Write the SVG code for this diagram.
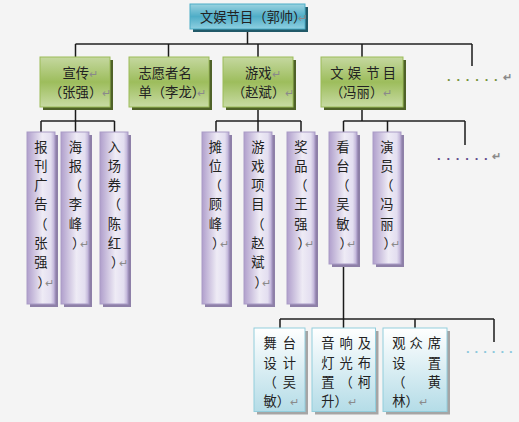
<svg xmlns="http://www.w3.org/2000/svg" width="519" height="422" viewBox="0 0 519 422">
<defs>
<linearGradient id="gTeal" x1="0" y1="0" x2="0" y2="1"><stop offset="0" stop-color="#9ad2e0"/><stop offset="0.5" stop-color="#4fadc7"/><stop offset="1" stop-color="#8fd0e1"/></linearGradient>
<linearGradient id="gGreen" x1="0" y1="0" x2="0" y2="1"><stop offset="0" stop-color="#c5d8a0"/><stop offset="0.5" stop-color="#9dbd5c"/><stop offset="1" stop-color="#c8dba4"/></linearGradient>
<linearGradient id="gPurple" x1="0" y1="0" x2="1" y2="0"><stop offset="0" stop-color="#b09fcc"/><stop offset="0.55" stop-color="#eeebf5"/><stop offset="0.85" stop-color="#e3def0"/><stop offset="1" stop-color="#b8aad2"/></linearGradient>
<linearGradient id="gBlue" x1="0" y1="0" x2="0" y2="1"><stop offset="0" stop-color="#ffffff"/><stop offset="1" stop-color="#b4dce7"/></linearGradient>
<style>
text{font-family:"Noto Sans CJK SC","Noto Sans CJK JP",sans-serif;font-size:13.3px;fill:#222}
.r{font-size:11px;fill:#8a8a8a;letter-spacing:0}
.v{text-anchor:middle}
.p{letter-spacing:-5.8px}
.teal{fill:url(#gTeal);stroke:#4bacc6;stroke-width:1}
.tealS{fill:#215968}
.green{fill:url(#gGreen);stroke:#9bbb59;stroke-width:1}
.greenS{fill:#4f6228}
.purple{fill:url(#gPurple);stroke:#a99bc6;stroke-width:1}
.purpleS{fill:#8e80a8}
.blue{fill:url(#gBlue);stroke:#92cddc;stroke-width:1}
.blueS{fill:#a5a5a5}
.ln{stroke:#1a1a1a;stroke-width:1.5;fill:none}
.bar{stroke:#555;stroke-width:2.2;fill:none}
.dg{font-family:"Liberation Sans",sans-serif;font-weight:bold;font-size:13px;fill:#77933c;letter-spacing:5.8px}
.dp{font-family:"Liberation Sans",sans-serif;font-weight:bold;font-size:13px;fill:#604a8a;letter-spacing:5.8px}
.db{font-family:"Liberation Sans",sans-serif;font-weight:bold;font-size:13px;fill:#8cc8dc;letter-spacing:5px}
</style>
</defs>
<rect width="519" height="422" fill="#f4f4f4"/>

<g id="connectors">
<path class="bar" d="M75.5 44H472 M41 121H114.5 M216 121H301 M343.5 121H465 M280 319H494"/>
<path class="ln" d="M247.5 30V44 M75.5 44V57 M168.5 44V57 M258 44V57 M362 44V57 M472 44V66
M75.5 107V121 M41 121V132 M75.5 121V132 M114.5 121V132
M258 107V121 M216 121V132 M258 121V132 M301 121V132
M362 107V121 M343.5 121V132 M387.5 121V132 M465 121V145
M343.5 264V319 M280 319V328 M343.5 319V328 M415 319V328 M494 319V342"/>
</g>

<g id="root">
<rect class="tealS" x="193" y="7" width="115" height="25"/>
<rect class="teal" x="190" y="4" width="115" height="25"/>
<text x="200" y="22">文娱节目（郭帅<tspan style="letter-spacing:-8.4px">）</tspan><tspan class="r">↵</tspan></text>
</g>

<g id="n-xuanchuan">
<rect class="greenS" x="43" y="60" width="70" height="50"/>
<rect class="green" x="40" y="57" width="70" height="50"/>
<text x="62.5" y="78">宣传<tspan class="r">↵</tspan></text>
<text x="49" y="96.5">（张强）<tspan class="r">↵</tspan></text>
</g>

<g id="n-zhiyuanzhe">
<rect class="greenS" x="132" y="60" width="80" height="50"/>
<rect class="green" x="129" y="57" width="80" height="50"/>
<text x="138.5" y="78">志愿者名</text>
<text x="138.5" y="96.5">单（李龙<tspan style="letter-spacing:-8px">）</tspan><tspan class="r">↵</tspan></text>
</g>

<g id="n-youxi">
<rect class="greenS" x="226" y="60" width="70" height="50"/>
<rect class="green" x="223" y="57" width="70" height="50"/>
<text x="245" y="78">游戏<tspan class="r">↵</tspan></text>
<text x="232" y="96.5">（赵斌）<tspan class="r">↵</tspan></text>
</g>

<g id="n-wenyu">
<rect class="greenS" x="324" y="60" width="82" height="50"/>
<rect class="green" x="321" y="57" width="82" height="50"/>
<text x="330.2 347.8 366.2 382.8" y="77.5">文娱节目</text>
<text x="330" y="96.5">（冯丽）<tspan class="r">↵</tspan></text>
</g>

<g id="n-more1"><text class="dg" x="447" y="81">......<tspan class="r" x="503">↵</tspan></text></g>

<g id="n-baokan">
<rect class="purpleS" x="30" y="135" width="28" height="172"/>
<rect class="purple" x="27" y="132" width="28" height="172"/>
<text class="v" y="151.5"><tspan x="41">报</tspan><tspan x="41" dy="19.3">刊</tspan><tspan x="41" dy="19.3">广</tspan><tspan x="41" dy="19.3">告</tspan><tspan x="41" dy="19.3">（</tspan><tspan x="41" dy="19.3">张</tspan><tspan x="41" dy="19.3">强</tspan></text>
<text x="37.5" y="286.6"><tspan class="p">）</tspan><tspan class="r">↵</tspan></text>
</g>

<g id="n-haibao">
<rect class="purpleS" x="64" y="135" width="28" height="172"/>
<rect class="purple" x="61" y="132" width="28" height="172"/>
<text class="v" y="151.5"><tspan x="75.5">海</tspan><tspan x="75.5" dy="19.3">报</tspan><tspan x="75.5" dy="19.3">（</tspan><tspan x="75.5" dy="19.3">李</tspan><tspan x="75.5" dy="19.3">峰</tspan></text>
<text x="72" y="248"><tspan class="p">）</tspan><tspan class="r">↵</tspan></text>
</g>

<g id="n-ruchangquan">
<rect class="purpleS" x="103" y="135" width="28" height="172"/>
<rect class="purple" x="100" y="132" width="28" height="172"/>
<text class="v" y="151.5"><tspan x="114.5">入</tspan><tspan x="114.5" dy="19.3">场</tspan><tspan x="114.5" dy="19.3">券</tspan><tspan x="114.5" dy="19.3">（</tspan><tspan x="114.5" dy="19.3">陈</tspan><tspan x="114.5" dy="19.3">红</tspan></text>
<text x="111" y="267.3"><tspan class="p">）</tspan><tspan class="r">↵</tspan></text>
</g>

<g id="n-tanwei">
<rect class="purpleS" x="205" y="135" width="27" height="172"/>
<rect class="purple" x="202" y="132" width="27" height="172"/>
<text class="v" y="151.5"><tspan x="215.5">摊</tspan><tspan x="215.5" dy="19.3">位</tspan><tspan x="215.5" dy="19.3">（</tspan><tspan x="215.5" dy="19.3">顾</tspan><tspan x="215.5" dy="19.3">峰</tspan></text>
<text x="212" y="248"><tspan class="p">）</tspan><tspan class="r">↵</tspan></text>
</g>

<g id="n-youxixiangmu">
<rect class="purpleS" x="247" y="135" width="28" height="172"/>
<rect class="purple" x="244" y="132" width="28" height="172"/>
<text class="v" y="151.5"><tspan x="258">游</tspan><tspan x="258" dy="19.3">戏</tspan><tspan x="258" dy="19.3">项</tspan><tspan x="258" dy="19.3">目</tspan><tspan x="258" dy="19.3">（</tspan><tspan x="258" dy="19.3">赵</tspan><tspan x="258" dy="19.3">斌</tspan></text>
<text x="254.5" y="286.6"><tspan class="p">）</tspan><tspan class="r">↵</tspan></text>
</g>

<g id="n-jiangpin">
<rect class="purpleS" x="290" y="135" width="28" height="172"/>
<rect class="purple" x="287" y="132" width="28" height="172"/>
<text class="v" y="151.5"><tspan x="301">奖</tspan><tspan x="301" dy="19.3">品</tspan><tspan x="301" dy="19.3">（</tspan><tspan x="301" dy="19.3">王</tspan><tspan x="301" dy="19.3">强</tspan></text>
<text x="297.5" y="248"><tspan class="p">）</tspan><tspan class="r">↵</tspan></text>
</g>

<g id="n-kantai">
<rect class="purpleS" x="332" y="135" width="28" height="132"/>
<rect class="purple" x="329" y="132" width="28" height="132"/>
<text class="v" y="151.5"><tspan x="343">看</tspan><tspan x="343" dy="19.3">台</tspan><tspan x="343" dy="19.3">（</tspan><tspan x="343" dy="19.3">吴</tspan><tspan x="343" dy="19.3">敏</tspan></text>
<text x="339.5" y="248"><tspan class="p">）</tspan><tspan class="r">↵</tspan></text>
</g>

<g id="n-yanyuan">
<rect class="purpleS" x="376" y="135" width="28" height="132"/>
<rect class="purple" x="373" y="132" width="28" height="132"/>
<text class="v" y="151.5"><tspan x="387">演</tspan><tspan x="387" dy="19.3">员</tspan><tspan x="387" dy="19.3">（</tspan><tspan x="387" dy="19.3">冯</tspan><tspan x="387" dy="19.3">丽</tspan></text>
<text x="383.5" y="248"><tspan class="p">）</tspan><tspan class="r">↵</tspan></text>
</g>

<g id="n-more2"><text class="dp" x="437" y="160">......<tspan class="r" x="492">↵</tspan></text></g>

<g id="n-wutai">
<rect class="blueS" x="257" y="331" width="51" height="83.5"/>
<rect class="blue" x="254" y="328" width="51" height="83.5"/>
<text x="263.5 282.8" y="348">舞台</text>
<text x="263.5 282.8" y="368">设计</text>
<text x="263.5 282.8" y="387">（吴</text>
<text x="263.5" y="405.5">敏）<tspan class="r">↵</tspan></text>
</g>

<g id="n-yinxiang">
<rect class="blueS" x="315" y="331" width="63.5" height="83.5"/>
<rect class="blue" x="312" y="328" width="63.5" height="83.5"/>
<text x="321.2 339.5 357.8" y="348">音响及</text>
<text x="321.2 339.5 357.8" y="368">灯光布</text>
<text x="321.2 339.5 357.8" y="387">置（柯</text>
<text x="321.2" y="405.5">升）<tspan class="r">↵</tspan></text>
</g>

<g id="n-guanzhong">
<rect class="blueS" x="386" y="331" width="64" height="83.5"/>
<rect class="blue" x="383" y="328" width="64" height="83.5"/>
<text x="392.2 409.5 427.8" y="348">观众席</text>
<text x="392.2 427.8" y="368">设置</text>
<text x="392.2 427.8" y="387">（黄</text>
<text x="392.2" y="405.5">林）<tspan class="r">↵</tspan></text>
</g>

<g id="n-more3"><text class="db" x="466" y="353">......</text></g>
</svg>
